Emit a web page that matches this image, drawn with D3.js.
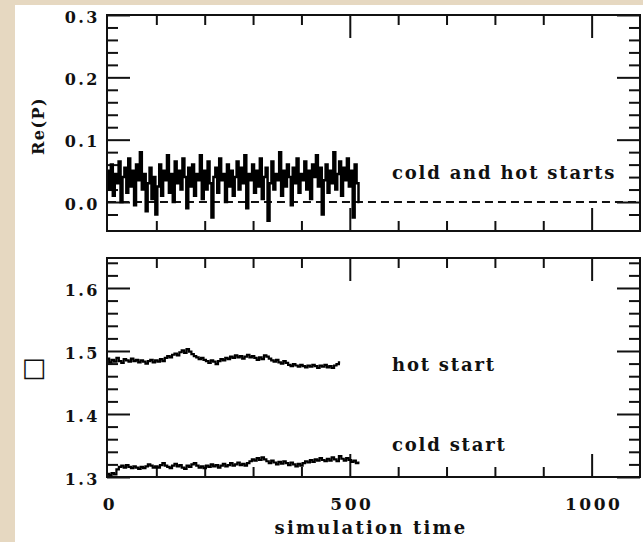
<!DOCTYPE html>
<html>
<head>
<meta charset="utf-8">
<script src="https://cdn.jsdelivr.net/npm/d3@7"></script>
<style>
body { margin: 0; background: #e6d8c1; }
svg { display: block; }
</style>
</head>
<body>
<script>
// tick values
const timeMajor = [0, 500, 1000];
const timeMinor = [100, 200, 300, 400, 600, 700, 800, 900];
const reMajor = [0.0, 0.1, 0.2, 0.3];
const sigmaMajor = [1.3, 1.4, 1.5, 1.6];

// Re(P), one sample every 4 time units
const reStep = 4;
const reValues = [
  0.05, 0.02, 0.06, 0.01, 0.045, 0.03, 0.065, 0.00, 0.04, 0.055,
  0.015, 0.07, 0.025, 0.05, -0.005, 0.06, 0.035, 0.08, 0.02, 0.045,
  -0.015, 0.03, 0.055, 0.005, 0.04, -0.02, 0.025, 0.06, 0.01, 0.05,
  0.035, 0.075, 0.015, 0.045, 0.0, 0.065, 0.03, 0.05, 0.02, 0.07,
  0.04, -0.01, 0.055, 0.025, 0.06, 0.01, 0.045, 0.035, 0.075, 0.005,
  0.05, 0.02, 0.065, 0.03, -0.025, 0.04, 0.055, 0.015, 0.07, 0.035,
  0.045, 0.0, 0.06, 0.025, 0.05, 0.01, 0.04, 0.065, 0.02, 0.055,
  0.03, 0.075, -0.01, 0.045, 0.035, 0.06, 0.015, 0.05, 0.025, 0.07,
  0.005, 0.04, 0.055, -0.03, 0.03, 0.065, 0.02, 0.045, 0.035, 0.08,
  0.01, 0.05, 0.025, 0.06, 0.04, -0.005, 0.055, 0.03, 0.07, 0.015,
  0.045, 0.035, 0.065, 0.02, 0.05, 0.005, 0.06, 0.04, 0.075, 0.025,
  0.055, -0.02, 0.035, 0.06, 0.015, 0.05, 0.03, 0.08, 0.02, 0.045,
  0.065, 0.01, 0.055, 0.035, 0.07, 0.025, 0.05, -0.025, 0.06, 0.03,
  0.0
];

// hot start, one sample every 5 time units
const hotStep = 5;
const hotValues = [
  1.488, 1.482, 1.486, 1.483, 1.489, 1.484, 1.481, 1.487, 1.485, 1.483,
  1.488, 1.484, 1.486, 1.482, 1.485, 1.483, 1.480, 1.484, 1.486, 1.482,
  1.485, 1.483, 1.487, 1.484, 1.489, 1.492, 1.490, 1.494, 1.496, 1.493,
  1.498, 1.501, 1.497, 1.503, 1.499, 1.495, 1.492, 1.490, 1.487, 1.489,
  1.486, 1.484, 1.481, 1.485, 1.483, 1.479, 1.484, 1.487, 1.485, 1.489,
  1.487, 1.491, 1.489, 1.493, 1.490, 1.492, 1.488, 1.491, 1.494, 1.490,
  1.492, 1.489, 1.486, 1.490, 1.487, 1.493, 1.491, 1.488, 1.485, 1.483,
  1.486, 1.482, 1.480, 1.484, 1.481, 1.478, 1.476, 1.479, 1.477, 1.475,
  1.478, 1.476, 1.474, 1.477, 1.475, 1.478, 1.476, 1.473, 1.477, 1.475,
  1.478, 1.474, 1.476, 1.473, 1.477, 1.479, 1.482
];

// cold start, one sample every 5 time units
const coldStep = 5;
const coldValues = [
  1.305, 1.303, 1.306, 1.304, 1.312, 1.316, 1.318, 1.315, 1.319, 1.316,
  1.314, 1.317, 1.315, 1.313, 1.316, 1.314, 1.317, 1.320, 1.318, 1.315,
  1.317, 1.315, 1.319, 1.322, 1.318, 1.316, 1.314, 1.318, 1.321, 1.317,
  1.319, 1.315, 1.313, 1.318, 1.316, 1.320, 1.322, 1.318, 1.315, 1.317,
  1.314, 1.318, 1.316, 1.320, 1.317, 1.319, 1.315, 1.318, 1.321, 1.317,
  1.319, 1.322, 1.318, 1.320, 1.323, 1.319, 1.321, 1.318, 1.322, 1.325,
  1.328, 1.326, 1.330, 1.327, 1.331, 1.328, 1.325, 1.322, 1.326, 1.323,
  1.320, 1.324, 1.321, 1.325, 1.322, 1.319, 1.323, 1.320, 1.317, 1.321,
  1.318, 1.322, 1.325, 1.323, 1.327, 1.324, 1.328, 1.326, 1.330, 1.327,
  1.325, 1.329, 1.326, 1.331, 1.328, 1.325, 1.333, 1.329, 1.326, 1.330,
  1.327, 1.324, 1.326, 1.322, 1.323
];

const font = '"DejaVu Serif", "Liberation Serif", serif';

const svg = d3.select('body').append('svg')
              .attr('width', 643)
              .attr('height', 542);

svg.append('rect').attr('x', 15).attr('y', 5).attr('width', 628).attr('height', 537)
   .style('fill', '#ffffff');

const x = d3.scaleLinear().domain([-2, 1100]).range([107, 640]);
const yRe = d3.scaleLinear().domain([-0.0465, 0.3]).range([231, 15]);
const ySig = d3.scaleLinear().domain([1.3, 1.6476]).range([477, 258]);

function minorTicks(lo, hi, step) {
  const out = [];
  for (let v = lo; v <= hi + 1e-9; v += step) out.push(+v.toFixed(3));
  return out;
}

function panel(y, yMajor, yMinorLo, showXLabels) {
  const g = svg.append('g');
  const [y0, y1] = y.range();
  // frame
  g.append('rect').attr('x', 107).attr('y', y1).attr('width', 533).attr('height', y0 - y1)
   .style('fill', 'none').style('stroke', '#111').style('stroke-width', 2);

  const yMinor = minorTicks(yMinorLo, y.domain()[1], 0.02)
      .filter(v => !yMajor.some(m => Math.abs(m - v) < 1e-6));

  // left and right axes, ticks pointing inward
  [[d3.axisLeft(y), 107, true], [d3.axisRight(y), 640, false]].forEach(([ax, px, lab]) => {
    g.append('g').attr('transform', `translate(${px},0)`)
     .call(ax.tickValues(yMinor).tickSize(-11).tickFormat(''))
     .call(a => a.select('.domain').remove());
    const major = g.append('g').attr('transform', `translate(${px},0)`)
     .call(ax.tickValues(yMajor).tickSize(-23).tickPadding(7)
             .tickFormat(lab ? d3.format('.1f') : ''))
     .call(a => a.select('.domain').remove());
    major.selectAll('text').attr('dy', '0.45em')
     .style('font-family', font).style('font-size', '16px')
     .style('font-weight', 'bold').style('fill', '#111').style('letter-spacing', '2.5px');
  });

  // top and bottom axes, ticks pointing inward
  [[d3.axisTop(x), y1], [d3.axisBottom(x), y0]].forEach(([ax, py]) => {
    g.append('g').attr('transform', `translate(0,${py})`)
     .call(ax.tickValues(timeMinor).tickSize(-10).tickFormat(''))
     .call(a => a.select('.domain').remove());
    g.append('g').attr('transform', `translate(0,${py})`)
     .call(ax.tickValues(timeMajor.filter(v => v > 0)).tickSize(-23).tickFormat(''))
     .call(a => a.select('.domain').remove());
  });
  g.selectAll('.tick line').style('stroke', '#111').style('stroke-width', 2);

  if (showXLabels) {
    g.selectAll('.xlab').data(timeMajor).join('text')
     .attr('x', d => x(d) + 2).attr('y', y0 + 33)
     .attr('text-anchor', 'middle')
     .style('font-family', font).style('font-size', '17px').style('font-weight', 'bold')
     .style('fill', '#111').style('letter-spacing', '2.5px')
     .text(d => d);
  }
  return g;
}

panel(yRe, reMajor, -0.02, false);
panel(ySig, sigmaMajor, 1.32, true);

const line = (step, y) => d3.line().curve(d3.curveStep)
    .x((d, i) => x(i * step)).y(d => y(d));

// dashed zero line
svg.append('line')
   .attr('x1', x(0)).attr('x2', 640).attr('y1', yRe(0)).attr('y2', yRe(0))
   .style('stroke', '#111').style('stroke-width', 2).style('stroke-dasharray', '8,5');

svg.append('path').datum(reValues).attr('d', line(reStep, yRe))
   .style('fill', 'none').style('stroke', '#000').style('stroke-width', 2.5);
svg.append('path').datum(hotValues).attr('d', line(hotStep, ySig))
   .style('fill', 'none').style('stroke', '#000').style('stroke-width', 2.2);
svg.append('path').datum(coldValues).attr('d', line(coldStep, ySig))
   .style('fill', 'none').style('stroke', '#000').style('stroke-width', 2.2);

const textStyle = (s, size, ls) => s.style('font-family', font).style('font-weight', 'bold')
   .style('fill', '#111').style('font-size', size).style('letter-spacing', ls);

svg.append('text').attr('x', 392).attr('y', 179).text('cold and hot starts')
   .call(textStyle, '18px', '1.8px');
svg.append('text').attr('x', 392).attr('y', 371).text('hot start')
   .call(textStyle, '18px', '1.8px');
svg.append('text').attr('x', 392).attr('y', 451).text('cold start')
   .call(textStyle, '18px', '1.8px');
svg.append('text').attr('x', 371).attr('y', 534).attr('text-anchor', 'middle')
   .text('simulation time')
   .call(textStyle, '18px', '2.2px');

svg.append('text').attr('transform', 'translate(44,126) rotate(-90)')
   .attr('text-anchor', 'middle').text('Re(P)')
   .call(textStyle, '16px', '1.5px');
svg.append('text').attr('x', 34).attr('y', 376).attr('text-anchor', 'middle')
   .text('□').style('font-family', '"DejaVu Sans"').style('font-size', '26px')
   .style('fill', '#111');
</script>
</body>
</html>
